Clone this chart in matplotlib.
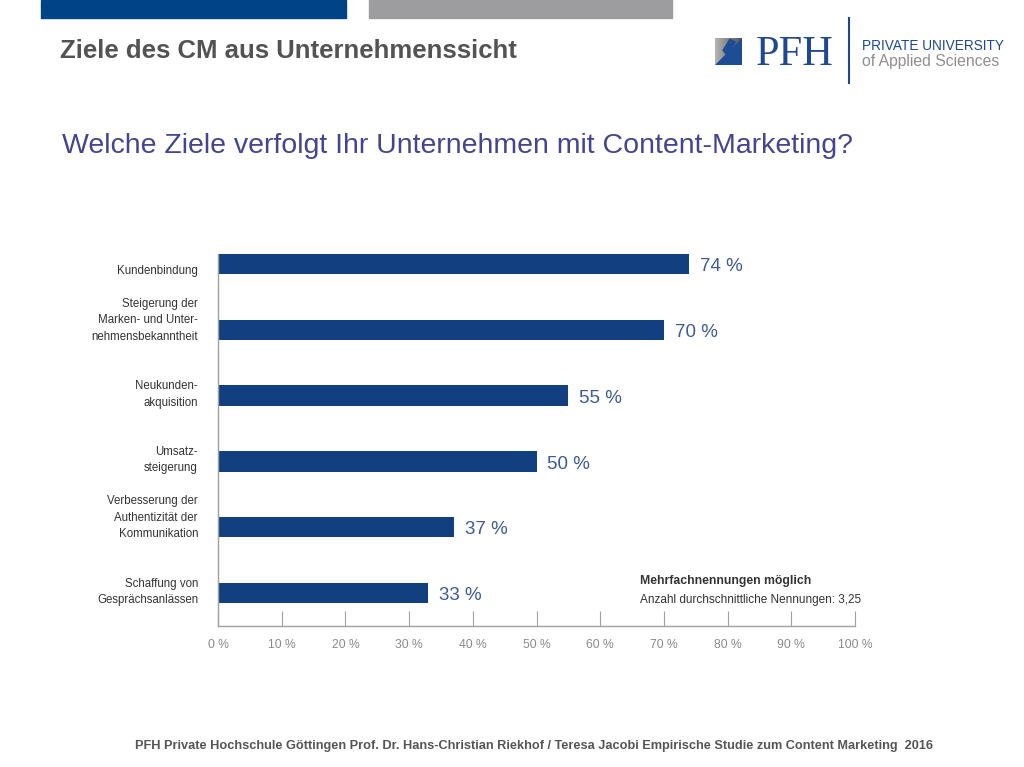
import matplotlib.pyplot as plt
from matplotlib.patches import Rectangle, Polygon
from matplotlib.transforms import offset_copy
import numpy as np

# data
categories = ['Kundenbindung',
              'Steigerung der\nMarken- und Unter-\nnehmensbekanntheit',
              'Neukunden-\nakquisition',
              'Umsatz-\nsteigerung',
              'Verbesserung der\nAuthentizität der\nKommunikation',
              'Schaffung von\nGesprächsanlässen']
values = [74, 70, 55, 50, 37, 33]
xticks = [0, 10, 20, 30, 40, 50, 60, 70, 80, 90, 100]

narrow = ['Liberation Sans Narrow', 'Liberation Sans', 'DejaVu Sans']
plt.rcParams['font.family'] = ['Liberation Sans', 'DejaVu Sans']

fig = plt.figure(figsize=(10.24, 7.67), dpi=100)

# header strips
fig.patches.append(Rectangle((41/1024, 1 - 18/767), 305/1024, 18/767,
                             transform=fig.transFigure, color='#004386', zorder=0))
fig.patches.append(Rectangle((369/1024, 1 - 18/767), 303/1024, 18/767,
                             transform=fig.transFigure, color='#9d9d9f', zorder=0))

fig.text(60/1024, 1 - 58/767, 'Ziele des CM aus Unternehmenssicht',
         fontsize=18.5, fontweight='bold', color='#535353', va='baseline')
fig.text(62/1024, 1 - 153/767,
         'Welche Ziele verfolgt Ihr Unternehmen mit Content-Marketing?',
         fontsize=20.5, color='#45458f', va='baseline')

# logo
sq = fig.add_axes([715/1024, 1 - 65/767, 27/1024, 27/767])
grad = np.linspace(0, 1, 64)
sq.imshow(np.outer(np.ones(64), grad), cmap='Greys', vmin=-1.2, vmax=1.8,
          extent=[0, 1, 0, 1], aspect='auto')
sq.add_patch(Polygon([[0, 0], [1, 0], [1, 1]], closed=True, color='#1d4d95'))
sq.add_patch(Polygon([[0.45, 0.35], [0.75, 0.85], [0.55, 0.95], [0.3, 0.55]],
                     closed=True, color='#1d4d95'))
sq.set_xlim(0, 1)
sq.set_ylim(0, 1)
sq.axis('off')
fig.text(756/1024, 1 - 65/767, 'PFH', fontsize=30.5, color='#1e4990',
         family=['Liberation Serif', 'DejaVu Serif'], va='baseline')
fig.add_artist(plt.Line2D([849/1024, 849/1024], [1 - 83/767, 1 - 18/767],
                          transform=fig.transFigure, color='#1e4990', lw=1.5))
fig.text(862/1024, 1 - 50/767, 'PRIVATE UNIVERSITY', fontsize=9.8,
         color='#1e4990', family=narrow, va='baseline')
fig.text(862/1024, 1 - 66/767, 'of Applied Sciences', fontsize=11.3,
         color='#8e8e8e', family=narrow, va='baseline')

# chart
ax = fig.add_axes([218/1024, 1 - 626/767, 637/1024, 372/767])
ypos = np.arange(len(values))[::-1]
ax.barh(ypos, values, height=0.31, color='#123f80')
for y, v in zip(ypos, values):
    ax.text(v + 1.7, y - 0.04, f'{v} %', fontsize=13.5, color='#3d5a99',
            va='center', ha='left')

# category labels: last line sits just below the bar centre
ax.set_yticks(ypos)
ax.set_yticklabels([])
ax.tick_params(axis='y', length=0)
lab_tr = offset_copy(ax.get_yaxis_transform(), fig=fig, x=-20, y=-13, units='dots')
for y, c in zip(ypos, categories):
    ax.text(0, y, c, transform=lab_tr, family=narrow, fontsize=8.3,
            color='#333333', ha='right', va='bottom', linespacing=1.5,
            multialignment='right')

ax.set_xlim(0, 100)
ax.set_ylim(-0.5, 5.15)
ax.set_xticks(xticks)
ax.set_xticklabels([f'{t} %' for t in xticks], family=narrow, fontsize=8.7,
                   color='#8a8a8a')
ax.tick_params(axis='x', direction='in', length=11, color='#a0a0a0', pad=9)
for s in ['top', 'right']:
    ax.spines[s].set_visible(False)
for s in ['left', 'bottom']:
    ax.spines[s].set_color('#a0a0a0')
    ax.spines[s].set_linewidth(1.0)

fig.text(640/1024, 1 - 584/767, 'Mehrfachnennungen möglich', fontsize=8.8,
         fontweight='bold', color='#333333', family=narrow, va='baseline')
fig.text(640/1024, 1 - 603/767, 'Anzahl durchschnittliche Nennungen: 3,25',
         fontsize=8.5, color='#333333', family=narrow, va='baseline')

fig.text(135/1024, 1 - 749/767,
         'PFH Private Hochschule Göttingen Prof. Dr. Hans-Christian Riekhof / '
         'Teresa Jacobi Empirische Studie zum Content Marketing  2016',
         fontsize=9.15, fontweight='bold', color='#555555', va='baseline')

fig.savefig('out.png', dpi=100)
